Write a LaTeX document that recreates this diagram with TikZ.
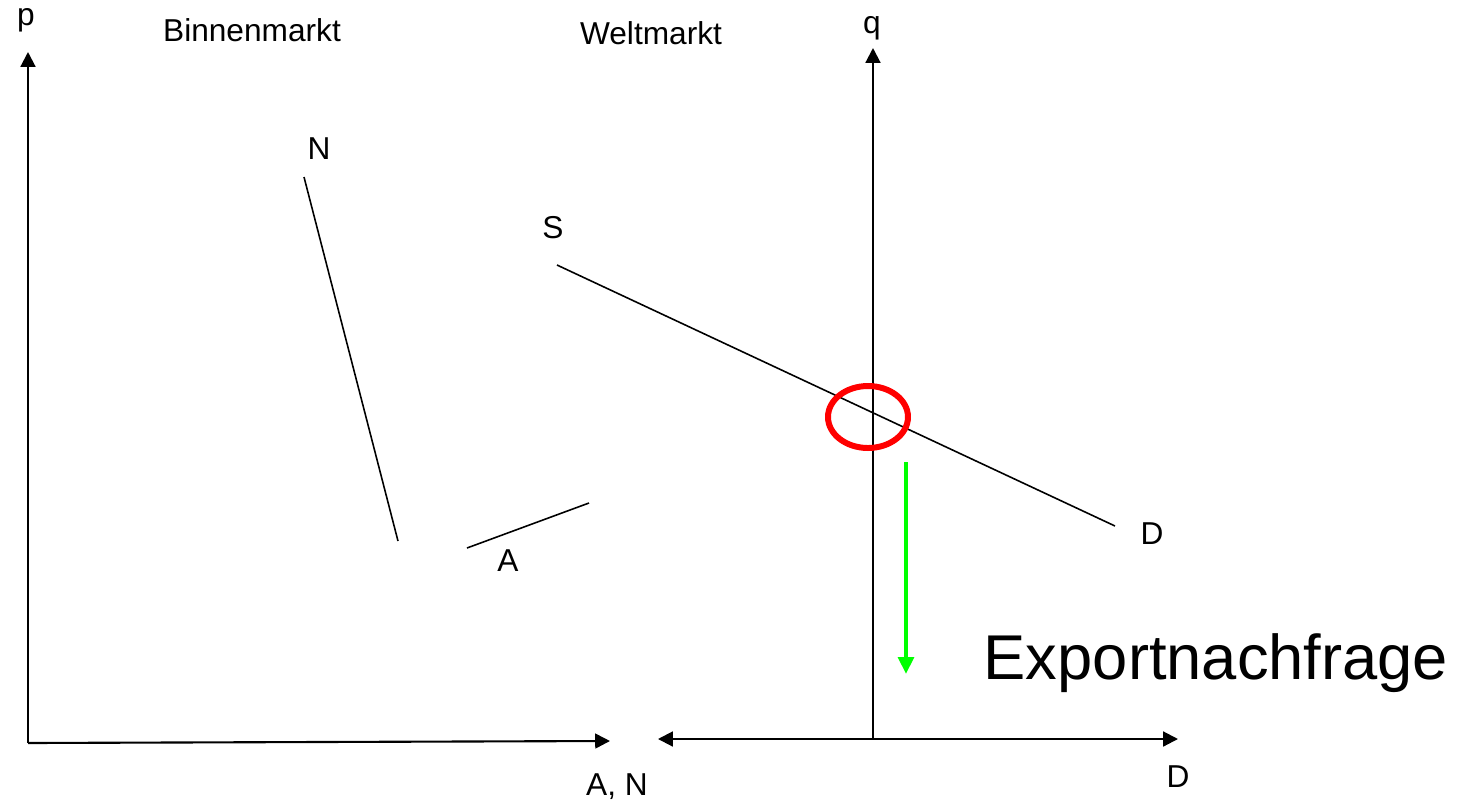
\documentclass[tikz,border=0pt]{standalone}
\usepackage{fontspec}
\setmainfont{Liberation Sans}
\usetikzlibrary{arrows.meta}

\tikzset{
    axis/.style={line width=0.6pt, -{Triangle[length=4.2pt, width=4.2pt]}},
    curve/.style={line width=0.45pt},
    lbl/.style={font=\fontsize{9}{10}\selectfont, inner sep=0pt}
}

\begin{document}
\begin{tikzpicture}[x=0.01cm, y=-0.01cm]
\useasboundingbox (0,0) rectangle (1465,805);

% Axes of the domestic market
\coordinate (o1) at (28,743);
\coordinate (ptip) at (28,52);
\coordinate (antip) at (610,741);
\draw[axis] (o1) -- (ptip);
\draw[axis] (o1) -- (antip);
\node[lbl] (p) at (26,20) {p};
\node[lbl] (an) at (617,787) {A, N};
\node[lbl] (binnen) at (252,30) {Binnenmarkt};

% Axes of the world market
\coordinate (o2) at (873,739);
\coordinate (qtip) at (873,48);
\coordinate (dleft) at (658,739);
\coordinate (dright) at (1178,739);
\draw[axis] (o2) -- (qtip);
\draw[axis, {Triangle[length=4.2pt, width=4.2pt]}-{Triangle[length=4.2pt, width=4.2pt]}] (dleft) -- (dright);
\node[lbl] (q) at (872,28) {q};
\node[lbl] (daxis) at (1178,777) {D};
\node[lbl] (welt) at (651,33) {Weltmarkt};

% Curves
\coordinate (n1) at (304,177);
\coordinate (n2) at (398,541);
\draw[curve] (n1) -- (n2);
\node[lbl] (nlab) at (319,149) {N};

\coordinate (a1) at (467,548);
\coordinate (a2) at (589,503);
\draw[curve] (a1) -- (a2);
\node[lbl] (alab) at (508,561) {A};

\coordinate (s1) at (557,265);
\coordinate (d1) at (1115,526);
\draw[curve] (s1) -- (d1);
\node[lbl] (slab) at (553,228) {S};
\node[lbl] (dlab) at (1152,534) {D};

% Equilibrium and shift
\draw[red, line width=1.7pt] (868,417) ellipse (40 and 31);
\coordinate (g1) at (906,462);
\coordinate (g2) at (906,674);
\draw[green, line width=1.15pt, -{Triangle[length=4.8pt, width=4.4pt]}] (g1) -- (g2);
\node[font=\fontsize{18}{20}\selectfont, inner sep=0pt] (export) at (1216,663) {Exportnachfrage};

\end{tikzpicture}
\end{document}
